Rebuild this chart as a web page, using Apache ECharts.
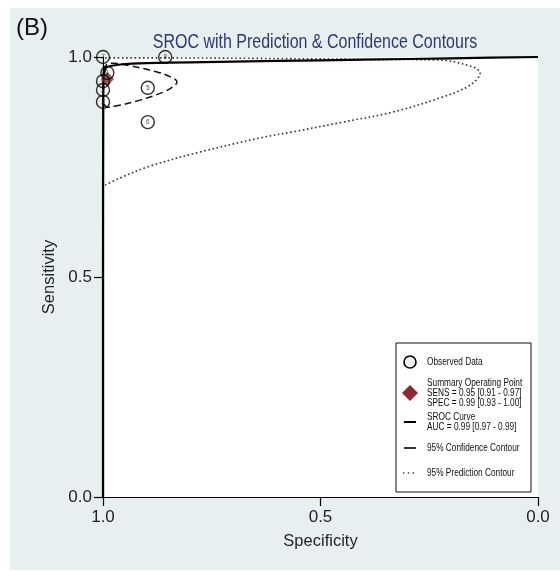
<!DOCTYPE html>
<html>
<head>
<meta charset="utf-8">
<script src="https://cdn.jsdelivr.net/npm/echarts@6/dist/echarts.min.js"></script>
<style>html,body{margin:0;padding:0;background:#fff;}#c{width:560px;height:571px;}</style>
</head>
<body>
<div id="c"></div>
<script>
// ---- data (specificity, sensitivity) ----
const xTicks = [1.0, 0.5, 0.0];
const yTicks = [0.0, 0.5, 1.0];
const studyLabels = ['7', '1', '4', '2', '3', '8', '5', '6'];
const studySpec = [1.0, 0.99, 1.0, 1.0, 1.0, 0.857, 0.897, 0.897];
const studySens = [1.0, 0.964, 0.945, 0.925, 0.898, 1.0, 0.93, 0.852];
const summarySpec = [0.99];
const summarySens = [0.95];
const srocSpec = [1.0, 1.0, 0.9995, 0.998, 0.993, 0.985, 0.96, 0.9, 0.8, 0.6, 0.4, 0.2, 0.0];
const srocSens = [0.0, 0.5, 0.9, 0.96, 0.975, 0.979, 0.983, 0.986, 0.988, 0.991, 0.994, 0.997, 1.0];
const confSpec = [0.999, 0.99, 0.977, 0.938, 0.876, 0.845, 0.83, 0.84, 0.862, 0.915, 0.968, 0.99, 0.999, 1.0, 0.999];
const confSens = [0.97, 0.984, 0.986, 0.98, 0.966, 0.955, 0.943, 0.932, 0.92, 0.902, 0.889, 0.886, 0.9, 0.935, 0.97];
const predSpec = [0.995, 0.892, 0.662, 0.432, 0.225, 0.149, 0.133, 0.156, 0.225, 0.333, 0.448, 0.563, 0.639, 0.777, 0.892, 0.961, 0.995];
const predSens = [0.998, 0.998, 0.997, 0.995, 0.993, 0.977, 0.964, 0.936, 0.907, 0.875, 0.852, 0.830, 0.816, 0.784, 0.752, 0.725, 0.709];
const legendTexts = ['Observed Data', 'Summary Operating Point\nSENS = 0.95 [0.91 - 0.97]\nSPEC = 0.99 [0.93 - 1.00]', 'SROC Curve\nAUC = 0.99 [0.97 - 0.99]', '95% Confidence Contour', '95% Prediction Contour'];

const zip = (a, b) => a.map((v, i) => [v, b[i]]);
const SF = "'Liberation Sans',Arial,sans-serif";

const chart = echarts.init(document.getElementById('c'), null, {renderer: 'canvas'});
const legendX = 396, legendY = 343;
const legendRowY = [362, 393, 422, 448, 473];
const ltext = (i) => ({
  type: 'text', z: 51, x: 427, y: legendRowY[i], scaleX: 0.72,
  style: {x: 0, y: 0, text: legendTexts[i], font: '11.5px ' + SF, lineHeight: 9.8, fill: '#111', verticalAlign: 'middle'}
});
const option = {
  animation: false,
  backgroundColor: '#ffffff',
  graphic: [
    {type: 'rect', z: -10, shape: {x: 10, y: 8, width: 550, height: 562}, style: {fill: '#e8eff0'}},
    {type: 'text', left: 16, top: 16, style: {text: '(B)', font: '24px ' + SF, fill: '#111'}},
    {type: 'text', z: 20, x: 315, y: 43, scaleX: 0.82,
      style: {x: 0, y: 0, text: 'SROC with Prediction & Confidence Contours', font: '19.5px ' + SF, fill: '#2b3a72', align: 'center', verticalAlign: 'middle'}},
    {type: 'rect', z: 50, shape: {x: legendX, y: legendY, width: 135, height: 149}, style: {fill: '#fff', stroke: '#111', lineWidth: 1}},
    {type: 'circle', z: 51, shape: {cx: 410, cy: 362, r: 6}, style: {fill: '#f0f0f0', stroke: '#000', lineWidth: 1.6}},
    {type: 'polygon', z: 51, shape: {points: [[410, 385], [418, 393], [410, 401], [402, 393]]}, style: {fill: '#8b2a30'}},
    {type: 'line', z: 51, shape: {x1: 404, y1: 422, x2: 416, y2: 422}, style: {stroke: '#000', lineWidth: 2}},
    {type: 'line', z: 51, shape: {x1: 404, y1: 448, x2: 416, y2: 448}, style: {stroke: '#000', lineWidth: 1.6}},
    {type: 'line', z: 51, shape: {x1: 403, y1: 473, x2: 417, y2: 473}, style: {stroke: '#444', lineWidth: 1.4, lineDash: [1.4, 3.4]}},
    ltext(0), ltext(1), ltext(2), ltext(3), ltext(4)
  ],
  grid: {left: 103, top: 57, width: 435, height: 440, show: true, backgroundColor: '#ffffff', borderWidth: 0},
  xAxis: {
    type: 'value', min: 0, max: 1, interval: 0.5, inverse: true,
    name: 'Specificity', nameLocation: 'middle', nameGap: 36,
    nameTextStyle: {fontFamily: SF, fontSize: 16.5, color: '#222'},
    axisLine: {onZero: false, lineStyle: {color: '#000', width: 1.2}},
    axisTick: {show: true, inside: false, length: 9, lineStyle: {color: '#000', width: 1.2}},
    axisLabel: {margin: 12, fontFamily: SF, fontSize: 17, color: '#222', formatter: v => xTicks.find(t => Math.abs(t - v) < 1e-9).toFixed(1)},
    splitLine: {show: false}
  },
  yAxis: {
    type: 'value', min: 0, max: 1, interval: 0.5,
    name: 'Sensitivity', nameLocation: 'middle', nameGap: 44,
    nameTextStyle: {fontFamily: SF, fontSize: 16.5, color: '#222'},
    axisLine: {onZero: false, lineStyle: {color: '#000', width: 1.2}},
    axisTick: {show: true, inside: false, length: 9, lineStyle: {color: '#000', width: 1.2}},
    axisLabel: {margin: 11, fontFamily: SF, fontSize: 17, color: '#222', formatter: v => yTicks.find(t => Math.abs(t - v) < 1e-9).toFixed(1)},
    splitLine: {show: false}
  },
  series: [
    {
      name: '95% Prediction Contour', type: 'line', data: zip(predSpec, predSens), smooth: 0.35,
      showSymbol: false, clip: false, z: 3,
      lineStyle: {color: '#333', width: 1.6, type: [1.6, 2.6]}
    },
    {
      name: '95% Confidence Contour', type: 'line', data: zip(confSpec, confSens), smooth: 0.4,
      showSymbol: false, clip: false, z: 3,
      lineStyle: {color: '#111', width: 1.5, type: [7, 4]}
    },
    {
      name: 'SROC Curve', type: 'line', data: zip(srocSpec, srocSens), smooth: 0.25,
      showSymbol: false, clip: false, z: 4,
      lineStyle: {color: '#000', width: 2.2}
    },
    {
      name: 'Summary Operating Point', type: 'scatter', data: zip(summarySpec, summarySens),
      symbol: 'diamond', symbolSize: [13, 15], clip: false, z: 5,
      itemStyle: {color: '#8b2a30'}
    },
    {
      name: 'Observed Data', type: 'scatter', data: zip(studySpec, studySens).map((p, i) => ({value: p, name: studyLabels[i]})),
      symbol: 'circle', symbolSize: 13, clip: false, z: 6,
      itemStyle: {color: 'rgba(255,255,255,0)', borderColor: '#000', borderWidth: 1.4},
      label: {show: true, position: 'inside', formatter: p => p.name, fontSize: 6.5, color: '#222', fontFamily: SF}
    }
  ]
};
chart.setOption(option);
</script>
</body>
</html>
